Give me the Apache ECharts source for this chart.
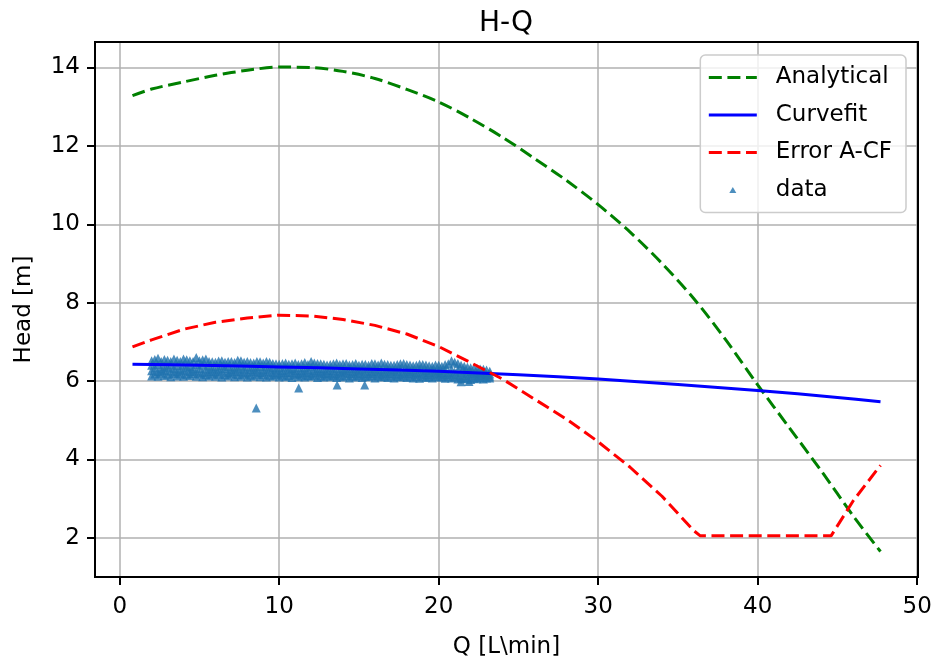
<!DOCTYPE html>
<html>
<head>
<meta charset="utf-8">
<script src="https://cdn.jsdelivr.net/npm/echarts@6/dist/echarts.min.js"></script>
<style>
html,body{margin:0;padding:0;background:#fff;}
#chart{width:933px;height:662px;}
</style>
</head>
<body>
<div id="chart"></div>
<script>
// ---- Analytical (green dashed) ----
const analyticalQ = [0.8, 2, 4, 6, 8, 10, 12, 14, 16, 18, 20, 22, 24, 26, 28, 30, 32, 34, 36, 38, 40, 42, 44, 46, 47.7];
const analyticalH = [13.28, 13.45, 13.63, 13.8, 13.93, 14.01, 14.0, 13.9, 13.72, 13.44, 13.12, 12.7, 12.22, 11.68, 11.12, 10.5, 9.8, 9.0, 8.1, 7.05, 5.9, 4.8, 3.7, 2.55, 1.65];

// ---- Curvefit (blue solid) ----
const curvefitQ = [0.8, 5, 10, 15, 20, 25, 30, 35, 40, 45, 47.7];
const curvefitH = [6.43, 6.4, 6.36, 6.31, 6.25, 6.16, 6.05, 5.91, 5.76, 5.58, 5.47];

// ---- Error A-CF (red dashed) ----
const errorQ = [0.8, 2, 4, 6, 8, 10, 12, 14, 16, 18, 20, 22, 24, 26, 28, 30, 32, 34, 36, 36.4, 44.6, 46, 47.7];
const errorH = [6.87, 7.05, 7.32, 7.5, 7.61, 7.68, 7.66, 7.57, 7.42, 7.2, 6.88, 6.47, 6.05, 5.54, 5.03, 4.45, 3.8, 3.06, 2.18, 2.05, 2.05, 2.95, 3.85];

// ---- measured data (scatter, triangles) ----
const dataQ = [2.0,2.4,2.8,3.2,3.6,4.0,4.4,4.8,5.2,5.6,6.0,6.4,6.8,7.2,7.6,8.0,8.4,8.8,9.2,9.6,10.0,10.4,10.8,11.2,11.6,12.0,12.4,12.8,13.2,13.6,14.0,14.4,14.8,15.2,15.6,16.0,16.4,16.8,17.2,17.6,18.0,18.4,18.8,19.2,19.6,20.0,20.4,20.8,21.2,21.6,22.0,22.4,22.8,23.2];
const dataHTop = [6.52,6.58,6.55,6.5,6.53,6.56,6.52,6.6,6.54,6.5,6.48,6.52,6.5,6.47,6.52,6.5,6.46,6.49,6.5,6.45,6.43,6.46,6.44,6.42,6.47,6.5,6.45,6.43,6.42,6.46,6.44,6.41,6.45,6.43,6.4,6.44,6.46,6.42,6.4,6.44,6.42,6.39,6.43,6.41,6.38,6.4,6.42,6.52,6.45,6.38,6.34,6.32,6.3,6.25];
const dataHUpper = [6.4,6.42,6.38,6.41,6.39,6.4,6.37,6.42,6.4,6.38,6.36,6.39,6.37,6.35,6.38,6.36,6.35,6.37,6.36,6.34,6.33,6.35,6.32,6.34,6.33,6.36,6.32,6.31,6.33,6.32,6.3,6.32,6.31,6.3,6.32,6.31,6.29,6.3,6.28,6.31,6.29,6.28,6.3,6.27,6.28,6.27,6.29,6.3,6.28,6.26,6.24,6.22,6.21,6.18];
const dataHLower = [6.26,6.24,6.27,6.25,6.23,6.26,6.24,6.25,6.22,6.24,6.23,6.25,6.22,6.24,6.23,6.21,6.24,6.22,6.23,6.21,6.2,6.22,6.21,6.19,6.22,6.2,6.21,6.19,6.2,6.18,6.21,6.19,6.2,6.18,6.19,6.2,6.17,6.19,6.18,6.17,6.19,6.17,6.18,6.16,6.17,6.18,6.16,6.17,6.15,6.14,6.15,6.13,6.14,6.12];
const dataHBottom = [6.13,6.12,6.14,6.11,6.13,6.12,6.14,6.12,6.11,6.13,6.12,6.1,6.13,6.11,6.12,6.1,6.12,6.11,6.1,6.12,6.1,6.11,6.09,6.11,6.1,6.12,6.09,6.1,6.11,6.09,6.1,6.08,6.1,6.09,6.11,6.08,6.1,6.09,6.08,6.1,6.09,6.08,6.07,6.09,6.08,6.1,6.07,6.08,6.05,6.06,6.04,6.06,6.05,6.08];
const dataQ2 = [2.2,2.6,3.0,3.4,3.8,4.2,4.6,5.0,5.4,5.8,6.2,6.6,7.0,7.4,7.8,8.2,8.6,9.0,9.4,9.8,10.2,10.6,11.0,11.4,11.8,12.2,12.6,13.0,13.4,13.8,14.2,14.6,15.0,15.4,15.8,16.2,16.6,17.0,17.4,17.8,18.2,18.6,19.0,19.4,19.8,20.2,20.6,21.0,21.4,21.8,22.2,22.6,23.0];
const dataH2Top = [6.55,6.5,6.53,6.56,6.5,6.54,6.5,6.52,6.56,6.49,6.51,6.48,6.5,6.53,6.48,6.47,6.5,6.46,6.48,6.44,6.45,6.43,6.46,6.44,6.42,6.46,6.44,6.41,6.44,6.42,6.45,6.42,6.4,6.43,6.45,6.41,6.43,6.4,6.42,6.45,6.41,6.4,6.42,6.39,6.41,6.38,6.44,6.48,6.4,6.36,6.33,6.31,6.28];
const dataH2Mid = [6.33,6.31,6.34,6.32,6.3,6.33,6.31,6.32,6.3,6.31,6.3,6.32,6.29,6.31,6.3,6.29,6.3,6.28,6.3,6.28,6.27,6.29,6.27,6.26,6.28,6.27,6.25,6.27,6.26,6.25,6.26,6.24,6.26,6.25,6.24,6.25,6.23,6.25,6.24,6.23,6.24,6.22,6.23,6.22,6.23,6.21,6.22,6.23,6.21,6.2,6.19,6.18,6.17];
const dataH2Low = [6.18,6.2,6.17,6.19,6.18,6.17,6.19,6.18,6.16,6.18,6.17,6.16,6.18,6.16,6.17,6.15,6.17,6.16,6.15,6.16,6.15,6.14,6.16,6.15,6.14,6.15,6.13,6.15,6.14,6.13,6.14,6.13,6.14,6.12,6.14,6.13,6.12,6.13,6.12,6.13,6.12,6.11,6.12,6.11,6.12,6.1,6.11,6.1,6.07,6.08,6.07,6.09,6.08];
const outlierQ = [8.56, 11.22, 13.63, 15.36, 21.4, 21.9];
const outlierH = [5.31, 5.82, 5.9, 5.9, 5.98, 5.99];

// ---- axes ----
const xTicks = [0, 10, 20, 30, 40, 50];
const yTicks = [2, 4, 6, 8, 10, 12, 14];

const zip = (a, b) => a.map((v, i) => [v, b[i]]).filter(p => p[1] !== undefined);
const scatterData = []
  .concat(zip(dataQ, dataHTop), zip(dataQ, dataHUpper), zip(dataQ, dataHLower), zip(dataQ, dataHBottom),
          zip(dataQ2, dataH2Top), zip(dataQ2, dataH2Mid), zip(dataQ2, dataH2Low),
          zip(outlierQ, outlierH));

const FONT = "'DejaVu Sans', sans-serif";
const chart = echarts.init(document.getElementById('chart'), null, {renderer: 'canvas'});

const axisCommon = {
  type: 'value',
  nameLocation: 'middle',
  nameTextStyle: {fontSize: 23, color: '#000', fontFamily: FONT},
  axisLine: {show: true, onZero: false, lineStyle: {color: '#000', width: 2}},
  axisTick: {show: true, inside: false, length: 8, lineStyle: {color: '#000', width: 2}},
  splitLine: {show: true, lineStyle: {color: '#b0b0b0', width: 1.5}},
  axisLabel: {fontSize: 23, color: '#000', fontFamily: FONT, margin: 17, showMinLabel: false, showMaxLabel: false}
};
const frameAxis = {
  type: 'value',
  axisLine: {show: true, onZero: false, lineStyle: {color: '#000', width: 2}},
  axisTick: {show: false}, axisLabel: {show: false}, splitLine: {show: false}
};

chart.setOption({
  animation: false,
  backgroundColor: '#fff',
  title: {
    text: 'H-Q', left: 506, top: 10, textAlign: 'center', padding: 0,
    textStyle: {fontSize: 28, fontWeight: 'normal', color: '#000', fontFamily: FONT}
  },
  grid: {left: 95, right: 15, top: 42, bottom: 85, show: true, borderColor: '#000', borderWidth: 2,
         backgroundColor: '#fff', containLabel: false, outerBoundsMode: 'none'},
  legend: {
    orient: 'vertical', right: 27, top: 55,
    padding: [9, 14, 9, 7],
    itemWidth: 48, itemHeight: 14, itemGap: 10.5,
    backgroundColor: 'rgba(255,255,255,0.8)', borderColor: '#cccccc', borderWidth: 1.5, borderRadius: 5,
    textStyle: {fontSize: 23, color: '#000', fontFamily: FONT, padding: [0, 0, 0, 14], lineHeight: 27},
    data: [
      {name: 'Analytical', itemStyle: {opacity: 0}, lineStyle: {width: 3}},
      {name: 'Curvefit', itemStyle: {opacity: 0}, lineStyle: {width: 3}},
      {name: 'Error A-CF', itemStyle: {opacity: 0}, lineStyle: {width: 3}},
      {name: 'data', icon: 'path://M0,0M48,14M20.5,10L24,4L27.5,10Z'}
    ]
  },
  xAxis: [
    Object.assign({}, axisCommon, {name: 'Q [L\\min]', nameGap: 59, min: -1.55, max: 50.05, splitNumber: 5, position: 'bottom',
      axisLabel: Object.assign({}, axisCommon.axisLabel, {margin: 19})}),
    Object.assign({}, frameAxis, {min: -1.55, max: 50.05, position: 'top'})
  ],
  yAxis: [
    Object.assign({}, axisCommon, {name: 'Head [m]', nameGap: 59, min: 1.0, max: 14.65, splitNumber: 7, position: 'left',
      axisLabel: Object.assign({}, axisCommon.axisLabel, {margin: 15})}),
    Object.assign({}, frameAxis, {min: 1.0, max: 14.65, position: 'right'})
  ],
  series: [
    {
      name: 'data', type: 'scatter', z: 1, symbol: 'triangle', symbolSize: 9,
      itemStyle: {color: '#1f72ae'}, data: scatterData
    },
    {
      name: 'Analytical', type: 'line', z: 3, symbol: 'none', smooth: 0.3, color: '#008000',
      lineStyle: {color: '#008000', width: 3, type: [13, 5.6]},
      data: zip(analyticalQ, analyticalH)
    },
    {
      name: 'Curvefit', type: 'line', z: 3, symbol: 'none', smooth: 0.3, color: '#0000ff',
      lineStyle: {color: '#0000ff', width: 3, type: 'solid'},
      data: zip(curvefitQ, curvefitH)
    },
    {
      name: 'Error A-CF', type: 'line', z: 3, symbol: 'none', color: '#ff0000',
      lineStyle: {color: '#ff0000', width: 3, type: [13, 5.6]},
      data: zip(errorQ, errorH)
    }
  ]
});
</script>
</body>
</html>
